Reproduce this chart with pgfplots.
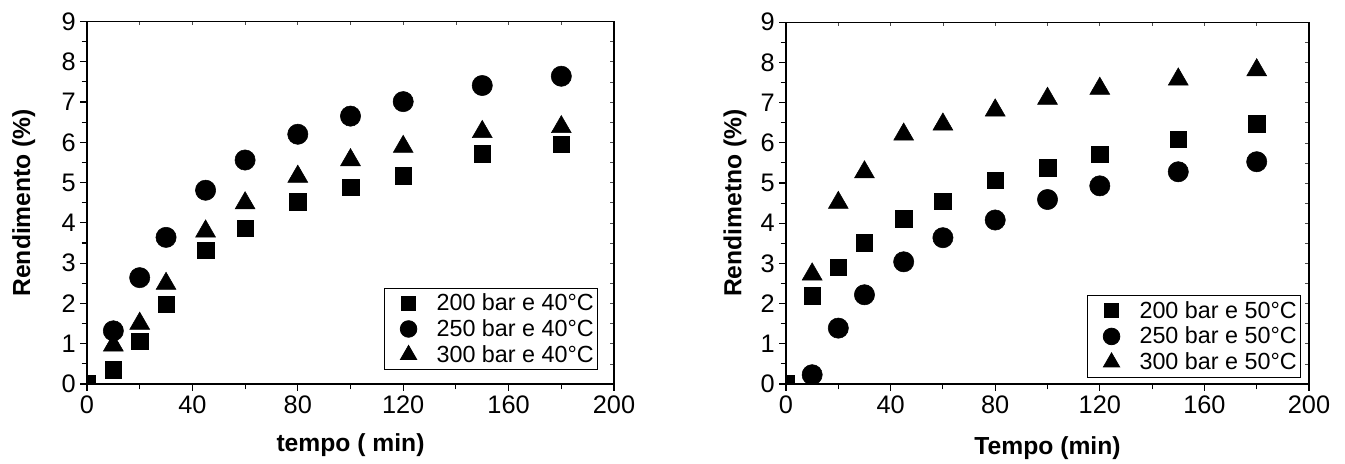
\documentclass[border=0pt]{standalone}
\usepackage{fontspec}
\setmainfont{Liberation Sans}
\usepackage{pgfplots}
\pgfplotsset{compat=1.18}

\pgfplotsset{
  rendbase/.style={
    scale only axis,
    xmin=0, xmax=200, ymin=0, ymax=9,
    xtick={0,40,...,200}, ytick={0,1,...,9},
    minor x tick num=1, minor y tick num=1,
  },
  rend/.style={
    rendbase,
    tick align=outside,
    xtick pos=left, ytick pos=left,
    major tick length=5pt, minor tick length=4pt,
    axis line style={line width=0.9pt},
    every tick/.style={black, line width=0.8pt},
    tick label style={font=\fontsize{19}{21}\selectfont},
    /pgf/number format/assume math mode=true,
    label style={font=\bfseries\fontsize{18.5}{21}\selectfont},
    clip marker paths=true,
    legend cell align=left,
    legend style={draw=black, line width=0.6pt, font=\fontsize{17.5}{19}\selectfont,
      row sep=1.2pt, inner xsep=1pt, inner ysep=2pt},
    legend image code/.code={
      \path[draw=none, fill=none] (0pt,-6pt) rectangle (36pt,6pt);
      \draw[#1, every mark/.append style={scale=0.82}] plot coordinates {(17pt,0pt)};},
  },
  inner/.style={
    rendbase,
    tick align=inside,
    xtick pos=right, ytick pos=right,
    xticklabels={}, yticklabels={},
    major tick length=3pt, minor tick length=3pt,
    every tick/.style={black!70, line width=0.5pt},
    axis line style={draw=none},
  },
  sq/.style={only marks, mark=square*, mark size=6.2pt, black},
  ci/.style={only marks, mark=*, mark size=7.6pt, black},
  tr/.style={only marks, mark=triangle*, mark size=8.6pt, black},
}

\begin{document}
\begin{tikzpicture}
\begin{axis}[inner, width=395.25pt, height=271.9pt]
\end{axis}
\begin{axis}[rend, width=395.25pt, height=271.9pt,
  xlabel={tempo ( min)}, ylabel={Rendimento (\%)},
  xlabel style={at={(axis description cs:0.5,-0.168)}, anchor=center},
  ylabel style={at={(axis description cs:-0.12,0.5)}, anchor=center},
  legend style={at={(axis description cs:0.970,0.0386)}, anchor=south east},
]
\addplot[sq] coordinates {(0,0) (10,0.35) (20,1.06) (30,1.98) (45,3.32) (60,3.87) (80,4.52) (100,4.88) (120,5.17) (150,5.72) (180,5.95)};
\addplot[ci] coordinates {(10,1.32) (20,2.64) (30,3.64) (45,4.81) (60,5.56) (80,6.20) (100,6.65) (120,7.01) (150,7.41) (180,7.64)};
\addplot[tr] coordinates {(10,0.96) (20,1.50) (30,2.49) (45,3.79) (60,4.49) (80,5.15) (100,5.56) (120,5.89) (150,6.26) (180,6.38)};
\legend{200 bar e 40°C, 250 bar e 40°C, 300 bar e 40°C}
\end{axis}

\begin{axis}[inner, xshift=524.25pt, width=392.25pt, height=271.3pt]
\end{axis}
\begin{axis}[rend, xshift=524.25pt, width=392.25pt, height=271.3pt,
  xlabel={Tempo (min)}, ylabel={Rendimetno (\%)},
  xlabel style={at={(axis description cs:0.5,-0.177)}, anchor=center},
  ylabel style={at={(axis description cs:-0.0975,0.5)}, anchor=center},
  legend style={at={(axis description cs:0.985,0.018)}, anchor=south east},
]
\addplot[sq] coordinates {(0,0) (10,2.19) (20,2.90) (30,3.52) (45,4.11) (60,4.55) (80,5.07) (100,5.38) (120,5.71) (150,6.09) (180,6.47)};
\addplot[ci] coordinates {(10,0.23) (20,1.39) (30,2.22) (45,3.04) (60,3.64) (80,4.08) (100,4.59) (120,4.93) (150,5.28) (180,5.53)};
\addplot[tr] coordinates {(10,2.73) (20,4.51) (30,5.27) (45,6.21) (60,6.46) (80,6.81) (100,7.10) (120,7.35) (150,7.58) (180,7.81)};
\legend{200 bar e 50°C, 250 bar e 50°C, 300 bar e 50°C}
\end{axis}
\path (-65.25pt,-57.75pt) rectangle (943.5pt,288pt);
\end{tikzpicture}
\end{document}
